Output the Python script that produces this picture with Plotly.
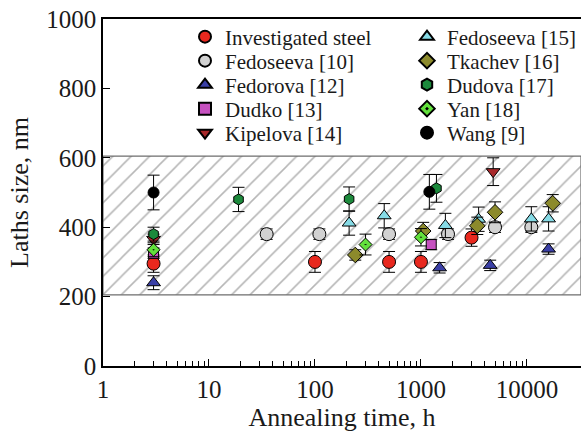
import plotly.graph_objects as go

# ---------------- data ----------------
inv_x = [3, 100, 500, 1000, 3000]
inv_y = [295, 300, 300, 300, 370]
inv_e = [25, 30, 30, 30, 25]

fed10_x = [35, 110, 500, 1800, 5000, 11000]
fed10_y = [380, 380, 380, 380, 400, 400]
fed10_e = [15, 15, 15, 15, 15, 15]

fedr_x = [3, 1500, 4500, 16000]
fedr_y = [240, 283, 290, 337]
fedr_e = [20, 15, 15, 15]

dudko_x = [3, 1250]
dudko_y = [325, 350]
dudko_e = [15, 15]

kip_x = [3, 4800]
kip_y = [365, 560]
kip_e = [15, 40]

fed15_x = [210, 450, 1700, 3500, 11000, 16000]
fed15_y = [412, 433, 405, 423, 424, 424]
fed15_e = [35, 35, 35, 35, 35, 35]

tka_x = [240, 1050, 3400, 5000, 17500]
tka_y = [320, 389, 404, 443, 469]
tka_e = [15, 25, 25, 30, 25]

dudova_x = [3, 19, 210, 1400]
dudova_y = [380, 480, 481, 512]
dudova_e = [20, 35, 35, 40]

yan_x = [3, 300, 1000]
yan_y = [335, 350, 371]
yan_e = [20, 30, 25]

wang_x = [3, 1200]
wang_y = [500, 502]
wang_e = [50, 50]

band_low, band_high = 205, 605
x_min_log, x_max_log = 0, 4.51
y_min, y_max = 0, 1000

major_x = [1, 10, 100, 1000, 10000]
major_x_labels = ["1", "10", "100", "1000", "10000"]
minor_x = [m * 10 ** d for d in range(0, 4) for m in range(2, 10)]
y_ticks = [0, 200, 400, 600, 800, 1000]

FONT = "'Liberation Serif', 'Times New Roman', Times, serif"
TXT = "#1a1a1a"

# page geometry (body margin removed by post script)
W, H = 581, 434
PLOT_L, PLOT_T, PLOT_B = 103, 19, 366
ML, MT, MR = PLOT_L, PLOT_T, 0
MB = H - PLOT_B
PW, PH = W - ML - MR, H - MT - MB

fig = go.Figure()

# hatched band
xr = [10 ** x_min_log, 10 ** x_max_log]
fig.add_trace(go.Scatter(
    x=[xr[0], xr[1], xr[1], xr[0], xr[0]],
    y=[band_low, band_low, band_high, band_high, band_low],
    mode="lines", fill="toself",
    fillcolor="white",
    fillpattern=dict(shape="/", fgcolor="#6e6e6e", bgcolor="white", size=13, solidity=0.12),
    line=dict(color="#6e6e6e", width=1.2),
    showlegend=False, hoverinfo="skip",
))

series = [
    ("Investigated steel", inv_x, inv_y, inv_e, "circle", "#e8281e", 13),
    ("Fedoseeva [10]", fed10_x, fed10_y, fed10_e, "circle", "#d2d2d2", 13),
    ("Fedorova [12]", fedr_x, fedr_y, fedr_e, "triangle-up", "#3a3fa6", 12),
    ("Dudko [13]", dudko_x, dudko_y, dudko_e, "square", "#c651c0", 10),
    ("Kipelova [14]", kip_x, kip_y, kip_e, "triangle-down", "#a8282a", 12),
    ("Fedoseeva [15]", fed15_x, fed15_y, fed15_e, "triangle-up", "#86dbe6", 12),
    ("Tkachev [16]", tka_x, tka_y, tka_e, "diamond", "#8c8a2c", 12),
    ("Dudova [17]", dudova_x, dudova_y, dudova_e, "hexagon", "#1c8a3c", 11),
    ("Yan [18]", yan_x, yan_y, yan_e, "diamond-dot", "#62e03c", 10),
    ("Wang [9]", wang_x, wang_y, wang_e, "circle", "#000000", 11),
]

# legend item centres (window pixels) : two columns of five
leg_marker_x = [208, 430]
leg_row_y = [35.5, 59.5, 83.5, 107.5, 131.5]
LEG_FS = 21

legends = {}
for i, (name, xs, ys, es, sym, col, sz) in enumerate(series):
    key = "legend" if i == 0 else f"legend{i + 1}"
    col_i, row_i = divmod(i, 5)
    lx = (leg_marker_x[col_i] - 23 - PLOT_L) / PW
    ly = (PLOT_B - (leg_row_y[row_i] - 19)) / PH
    legends[key] = dict(
        x=lx, y=ly, xanchor="left", yanchor="top",
        font=dict(family=FONT, size=LEG_FS, color=TXT),
        bgcolor="rgba(0,0,0,0)", itemsizing="constant",
    )
    fig.add_trace(go.Scatter(
        x=xs, y=ys, name=name, mode="markers",
        marker=dict(symbol=sym, color=col, size=sz,
                    line=dict(color="black", width=1)),
        error_y=dict(type="data", array=es, visible=True,
                     color="black", thickness=1, width=6),
        legend=key,
    ))

fig.update_layout(
    width=W, height=H,
    margin=dict(l=ML, r=MR, t=MT, b=MB, autoexpand=False),
    paper_bgcolor="white", plot_bgcolor="white",
    font=dict(family=FONT, size=22, color=TXT),
    showlegend=True,
    xaxis=dict(
        type="log", range=[x_min_log, x_max_log], automargin=False,
        tickmode="array", tickvals=major_x, ticktext=major_x_labels,
        ticks="inside", ticklen=7, tickwidth=1, tickcolor="black",
        minor=dict(tickmode="array", tickvals=minor_x, ticks="inside",
                   ticklen=5, tickwidth=1, tickcolor="black"),
        showline=True, linecolor="black", linewidth=1.5, mirror=True,
        showgrid=False, zeroline=False, ticklabeloverflow="allow",
        tickfont=dict(family=FONT, size=25, color=TXT),
        title=dict(text="Annealing time, h", font=dict(family=FONT, size=26, color=TXT), standoff=4),
    ),
    yaxis=dict(
        range=[y_min, y_max], tickvals=y_ticks, automargin=False,
        ticks="inside", ticklen=7, tickwidth=1, tickcolor="black",
        showline=True, linecolor="black", linewidth=1.5,
        showgrid=False, zeroline=False, ticklabeloverflow="allow",
        tickfont=dict(family=FONT, size=25, color=TXT),
        title=dict(text="Laths size, nm", font=dict(family=FONT, size=26, color=TXT), standoff=10),
    ),
    **legends,
)

fig.write_html("out.html", config={"displayModeBar": False},
               post_script="document.body.style.margin='0';")
